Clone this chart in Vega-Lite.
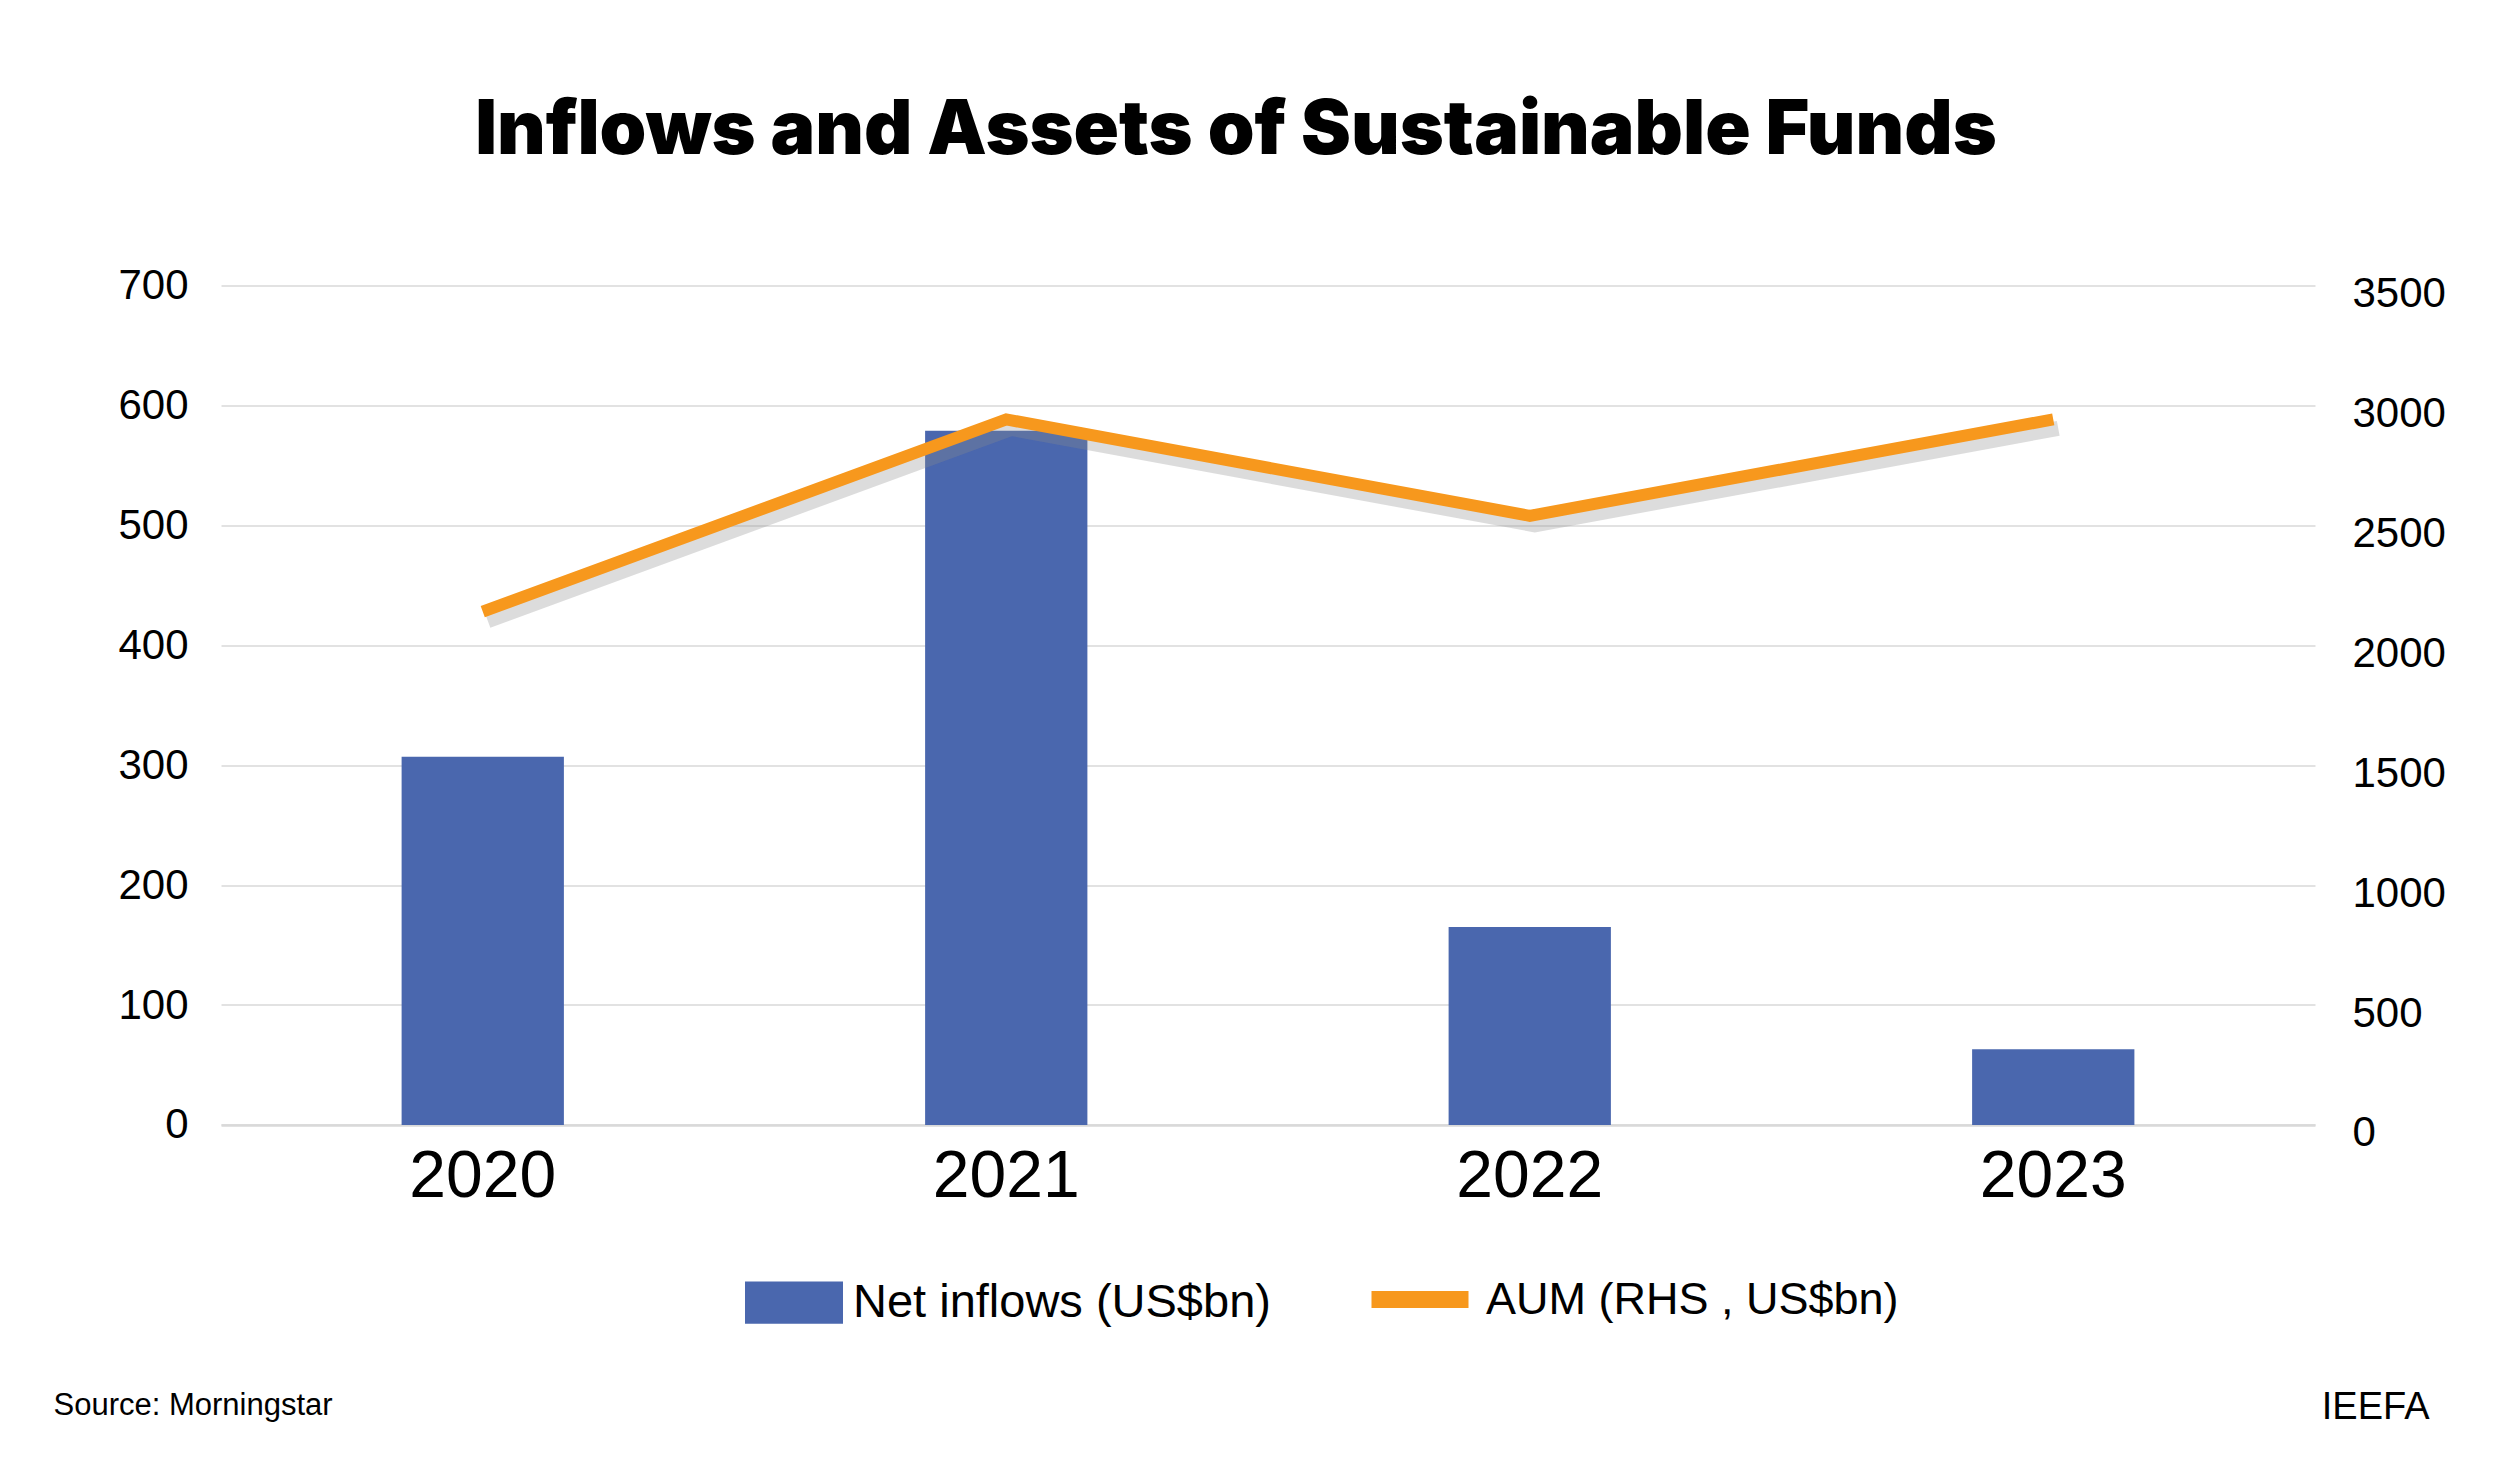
{
  "$schema": "https://vega.github.io/schema/vega-lite/v6.json",
  "autosize": {"type": "none"},
  "width": 2094,
  "height": 839.3,
  "padding": {"left": 221, "top": 285.6, "right": 185, "bottom": 333.1},
  "background": "white",
  "title": {
    "text": "Inflows and Assets of Sustainable Funds",
    "anchor": "middle",
    "frame": "group",
    "font": "Inter",
    "fontWeight": 900,
    "fontSize": 75,
    "color": "#000000",
    "baseline": "alphabetic",
    "offset": 36,
    "dx": -32
  },
  "config": {
    "view": {"stroke": null},
    "axis": {"labelFont": "Liberation Sans", "labelColor": "#000000", "titleFont": "Liberation Sans", "titleColor": "#000000", "titleFontWeight": "normal"},
    "legend": {"labelFont": "Liberation Sans", "labelColor": "#000000", "labelFontSize": 47, "labelLimit": 900}
  },
  "data": {
    "values": [
      {"year": "2020", "inflows": 307, "aum": 2140},
      {"year": "2021", "inflows": 579, "aum": 2942},
      {"year": "2022", "inflows": 165, "aum": 2540},
      {"year": "2023", "inflows": 63, "aum": 2942}
    ]
  },
  "encoding": {
    "x": {
      "field": "year",
      "type": "nominal",
      "sort": null,
      "scale": {"paddingInner": 0.69, "paddingOuter": 0.345},
      "axis": {
        "labelAngle": 0,
        "labelFontSize": 66,
        "labelPadding": 20,
        "ticks": false,
        "domain": true,
        "domainColor": "#d9d9d9",
        "domainWidth": 2.5,
        "grid": false,
        "title": "Source: Morningstar",
        "titleFontSize": 31,
        "titleAnchor": null,
        "titleAlign": "left",
        "titleBaseline": "alphabetic",
        "titleX": -168,
        "titleY": 290
      }
    }
  },
  "layer": [
    {
      "mark": {"type": "bar"},
      "encoding": {
        "y": {
          "field": "inflows",
          "type": "quantitative",
          "scale": {"domain": [0, 700], "nice": false},
          "axis": {
            "values": [0, 100, 200, 300, 400, 500, 600, 700],
            "labelFontSize": 42,
            "labelPadding": 33,
            "ticks": false,
            "domain": false,
            "grid": true,
            "gridColor": "#d9d9d9",
            "gridWidth": 1.5,
            "title": null
          }
        },
        "fill": {
          "datum": "Net inflows (US$bn)",
          "type": "nominal",
          "scale": {"range": ["#4A67AE"]},
          "legend": {
            "title": null,
            "orient": "none",
            "legendX": 524,
            "legendY": 968,
            "padding": 0,
            "symbolType": "M-1,-0.43H1V0.43H-1Z",
            "symbolSize": 9604,
            "symbolStrokeWidth": 0,
            "labelOffset": 10
          }
        }
      }
    },
    {
      "mark": {"type": "line", "color": "#8c8c8c", "opacity": 0.3, "strokeWidth": 15, "xOffset": 5, "yOffset": 9},
      "encoding": {
        "y": {"field": "aum", "type": "quantitative", "scale": {"domain": [0, 3500], "nice": false}, "axis": null}
      }
    },
    {
      "mark": {"type": "line", "strokeWidth": 12, "strokeJoin": "miter", "strokeCap": "butt"},
      "encoding": {
        "y": {
          "field": "aum",
          "type": "quantitative",
          "scale": {"domain": [0, 3500], "nice": false},
          "axis": {
            "orient": "right",
            "values": [0, 500, 1000, 1500, 2000, 2500, 3000, 3500],
            "format": "d",
            "labelFontSize": 42,
            "labelPadding": 37,
            "labelOffset": 8,
            "ticks": false,
            "domain": false,
            "grid": false,
            "title": "IEEFA",
            "titleFontSize": 38,
            "titleAngle": 0,
            "titleAlign": "right",
            "titleBaseline": "alphabetic",
            "titleAnchor": null,
            "titleX": 114,
            "titleY": 1133
          }
        },
        "stroke": {
          "datum": "AUM (RHS , US$bn)",
          "type": "nominal",
          "scale": {"range": ["#F7981D"]},
          "legend": {
            "title": null,
            "orient": "none",
            "legendX": 1142,
            "legendY": 957,
            "padding": 0,
            "symbolType": "stroke",
            "symbolSize": 9409,
            "symbolStrokeWidth": 17,
            "labelFontSize": 45,
            "labelOffset": 9
          }
        }
      }
    }
  ],
  "resolve": {"scale": {"y": "independent"}}
}
